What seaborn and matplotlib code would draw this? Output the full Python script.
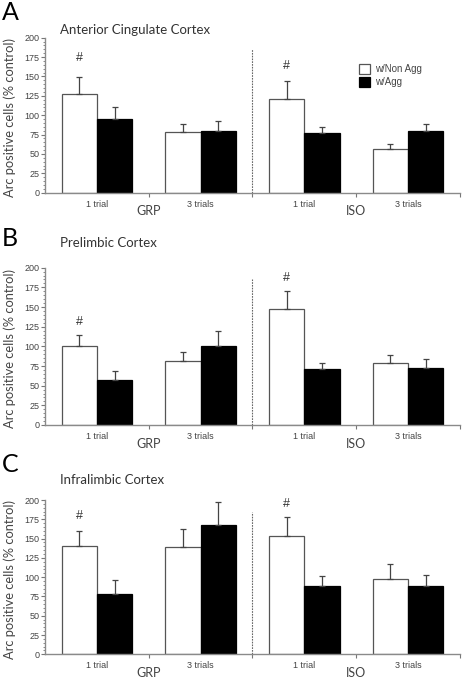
import matplotlib
matplotlib.use("Agg")
import matplotlib.pyplot as plt
from matplotlib.patches import Patch
from matplotlib.ticker import MultipleLocator, FixedLocator
import seaborn as sns
import pandas as pd

# categories
cond_keys = ["GRP_1", "GRP_3", "ISO_1", "ISO_3"]
trial_labels = ["1 trial", "3 trials", "1 trial", "3 trials"]
housing = ["GRP", "ISO"]
series = ["w/Non Agg", "w/Agg"]
panel_letters = ["A", "B", "C"]
regions = ["Anterior Cingulate Cortex", "Prelimbic Cortex", "Infralimbic Cortex"]

# values (% control), mean and SEM
acc_nonagg = [127, 78, 121, 56]
acc_nonagg_err = [22, 11, 23, 7]
acc_agg = [95, 80, 77, 80]
acc_agg_err = [15, 13, 8, 9]

pl_nonagg = [100, 81, 147, 79]
pl_nonagg_err = [14, 12, 23, 10]
pl_agg = [57, 100, 71, 73]
pl_agg_err = [12, 19, 8, 11]

il_nonagg = [140, 139, 153, 98]
il_nonagg_err = [20, 24, 25, 19]
il_agg = [78, 168, 88, 89]
il_agg_err = [18, 30, 13, 14]

# "#" marks: which bar gets one (non agg, 1 trial) and at what height
hash_cols = [0, 2]
acc_hash = [174, 163]
pl_hash = [131, 187]
il_hash = [179, 195]

panels = [
    (acc_nonagg, acc_nonagg_err, acc_agg, acc_agg_err, acc_hash),
    (pl_nonagg, pl_nonagg_err, pl_agg, pl_agg_err, pl_hash),
    (il_nonagg, il_nonagg_err, il_agg, il_agg_err, il_hash),
]

W, H = 462, 679
# axes boxes in pixels: left, top, right, bottom
boxes = [(45, 37.7, 460, 192.7), (45, 267.7, 460, 425), (45, 500, 460, 654.3)]
title_y = [30, 243, 480]
letter_y = [12, 238, 465]

sns.set_style("white")
plt.rcParams["font.family"] = ["Liberation Sans", "DejaVu Sans"]
fig = plt.figure(figsize=(W / 100, H / 100), dpi=100)

for i, (na, na_e, ag, ag_e, hashes) in enumerate(panels):
    l, t, r, b = boxes[i]
    ax = fig.add_axes([l / W, 1 - b / H, (r - l) / W, (b - t) / H])
    df = pd.DataFrame({
        "cond": cond_keys * 2,
        "series": [series[0]] * 4 + [series[1]] * 4,
        "value": na + ag,
    })
    sns.barplot(data=df, x="cond", y="value", hue="series", order=cond_keys,
                hue_order=series, palette=["white", "black"], width=0.68,
                errorbar=None, legend=False, ax=ax, saturation=1)
    for bar in ax.containers[0]:
        bar.set_edgecolor("#555555")
        bar.set_linewidth(0.9)
    for bar in ax.containers[1]:
        bar.set_edgecolor("black")
        bar.set_linewidth(0.9)

    # upper error bars only
    for cont, m, e in zip(ax.containers, [na, ag], [na_e, ag_e]):
        xs = [p.get_x() + p.get_width() / 2 for p in cont]
        ax.errorbar(xs, m, yerr=[[0] * len(e), e], fmt="none", ecolor="#444444",
                    elinewidth=0.9, capsize=2.5, capthick=0.9, zorder=3)
        if cont is ax.containers[0]:
            for k, hy in zip(hash_cols, hashes):
                ax.text(xs[k], hy, "#", ha="center", va="center", fontsize=9,
                        color="#333333")

    ax.set_xlim(-0.5, 3.5)
    ax.set_ylim(0, 200)
    ax.vlines(1.5, 0, 185, colors="#666666", linestyles=(0, (1.5, 1)), lw=0.8)

    sns.despine(ax=ax)
    for s in ["left", "bottom"]:
        ax.spines[s].set_color("#8a8a8a")
        ax.spines[s].set_linewidth(1.0)

    ax.yaxis.set_major_locator(MultipleLocator(25))
    ax.yaxis.set_minor_locator(MultipleLocator(5))
    ax.tick_params(axis="y", which="major", left=True, length=3, width=0.8,
                   color="#777777", labelsize=6.5, labelcolor="#444444", pad=1)
    ax.tick_params(axis="y", which="minor", left=True, length=1.5, width=0.6,
                   color="#777777")
    ax.set_xticks(range(4))
    ax.set_xticklabels(trial_labels)
    ax.xaxis.set_minor_locator(FixedLocator([0.5, 1.5, 2.5, 3.5]))
    ax.tick_params(axis="x", which="major", bottom=False, length=0,
                   labelsize=6.5, labelcolor="#444444", pad=5)
    ax.tick_params(axis="x", which="minor", bottom=True, length=3, width=0.8,
                   color="#777777")
    ax.set_xlabel("")
    ax.set_ylabel("")

    for gx, g in zip([0.5, 2.5], housing):
        ax.annotate(g, xy=(gx, 0), xycoords=("data", "axes fraction"),
                    xytext=(0, -13.5), textcoords="offset points", ha="center",
                    va="center", fontsize=9, color="#444444", family="Lato")

    fig.text(60 / W, 1 - title_y[i] / H, regions[i], ha="left", va="center",
             fontsize=9.5, color="#333333", family="Lato")
    fig.text(2 / W, 1 - letter_y[i] / H, panel_letters[i], ha="left",
             va="center", fontsize=18, color="black", family="Lato")
    fig.text(10 / W, 1 - ((t + b) / 2 + 2) / H, "Arc positive cells (% control)",
             rotation=90, ha="center", va="center", fontsize=9.3,
             color="#444444", family="Lato")

    if i == 0:
        handles = [Patch(facecolor="white", edgecolor="#555555", lw=0.9),
                   Patch(facecolor="black", edgecolor="black", lw=0.9)]
        fig.legend(handles, series, loc="upper left",
                   bbox_to_anchor=(350 / W, 1 - 55 / H), frameon=False,
                   fontsize=7, handlelength=1.2, handleheight=1.2,
                   handletextpad=0.5, labelspacing=0.3, labelcolor="#444444")

fig.savefig("out.png", dpi=100)
